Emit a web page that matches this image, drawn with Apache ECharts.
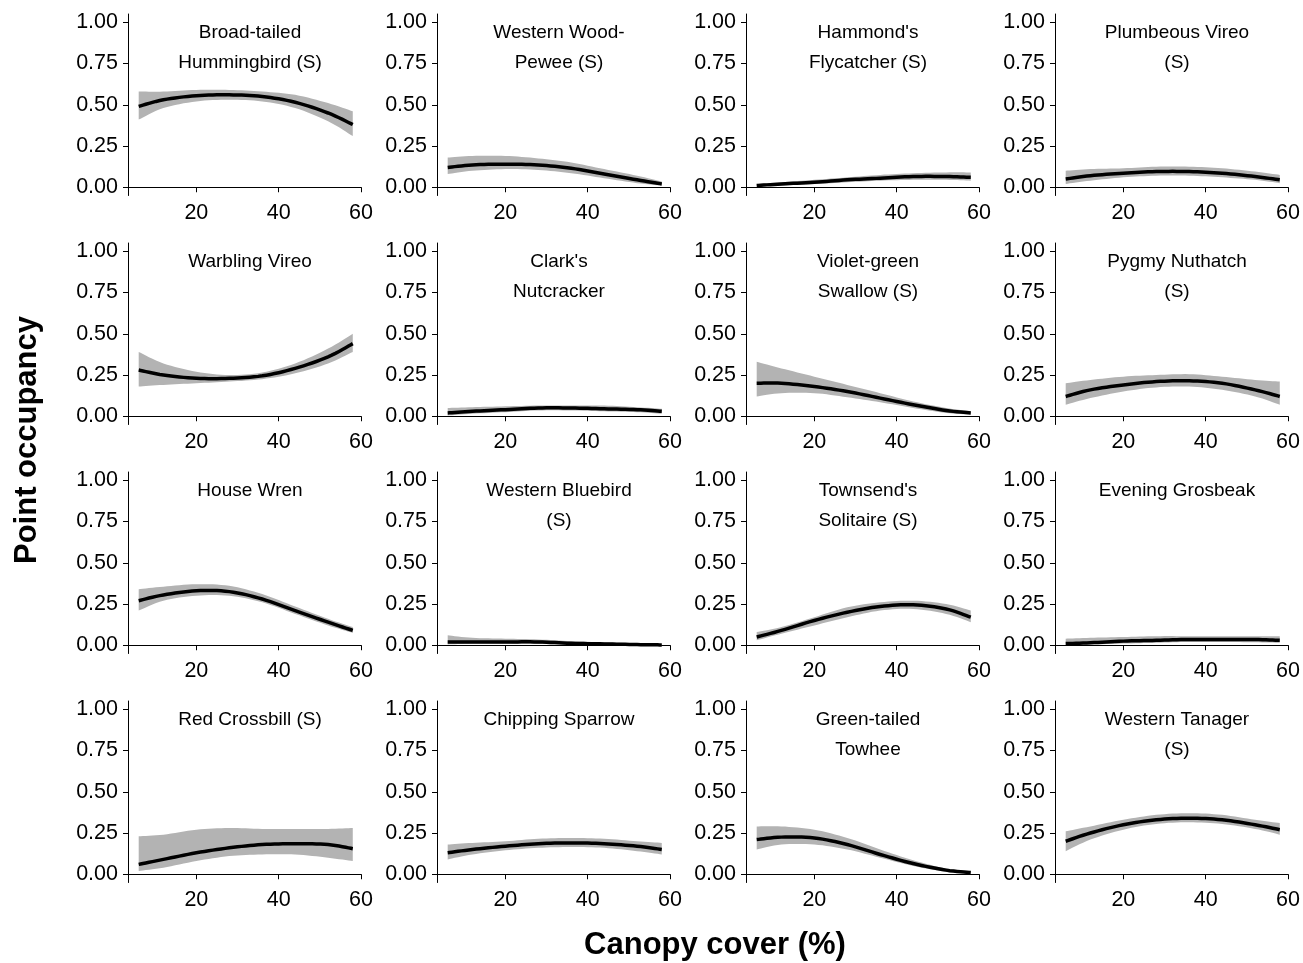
<!DOCTYPE html><html><head><meta charset="utf-8"><script src="https://cdn.jsdelivr.net/npm/echarts@6/dist/echarts.min.js"></script>
<style>html,body{margin:0;background:#fff}#c{width:1303px;height:963px}</style></head><body><div id="c"></div><script>
const xs=[6,12,20,28,36,44,52,58];
const names=["Broad-tailed\nHummingbird (S)","Western Wood-\nPewee (S)","Hammond's\nFlycatcher (S)","Plumbeous Vireo\n(S)","Warbling Vireo","Clark's\nNutcracker","Violet-green\nSwallow (S)","Pygmy Nuthatch\n(S)","House Wren","Western Bluebird\n(S)","Townsend's\nSolitaire (S)","Evening Grosbeak","Red Crossbill (S)","Chipping Sparrow","Green-tailed\nTowhee","Western Tanager\n(S)"];
const means=[[.49,.53,.555,.56,.55,.515,.45,.38],[.12,.135,.14,.135,.115,.08,.045,.02],[.01,.02,.03,.045,.055,.065,.065,.06],[.05,.07,.085,.095,.095,.085,.065,.045],[.28,.25,.23,.23,.245,.29,.36,.44],[.02,.03,.04,.05,.05,.045,.04,.03],[.20,.20,.18,.15,.11,.07,.035,.02],[.12,.16,.19,.21,.215,.20,.16,.12],[.27,.305,.33,.325,.28,.21,.14,.09],[.02,.02,.02,.02,.012,.008,.004,.002],[.05,.09,.15,.20,.235,.245,.22,.17],[.01,.015,.025,.03,.035,.035,.035,.03],[.06,.09,.13,.16,.18,.185,.18,.155],[.13,.15,.17,.185,.19,.185,.17,.15],[.21,.225,.22,.18,.12,.065,.025,.01],[.20,.25,.30,.33,.34,.33,.30,.27]];
const lows=[[.41,.48,.52,.53,.52,.48,.40,.31],[.08,.10,.11,.105,.085,.055,.025,.01],[.005,.01,.02,.03,.04,.045,.045,.04],[.02,.04,.06,.07,.07,.06,.045,.025],[.18,.19,.20,.21,.225,.26,.32,.39],[.005,.015,.025,.035,.035,.03,.025,.015],[.12,.14,.14,.115,.085,.05,.02,.01],[.07,.11,.15,.175,.18,.16,.12,.07],[.21,.27,.30,.30,.26,.19,.12,.075],[.005,.01,.01,.008,.004,.002,.001,0],[.03,.07,.12,.17,.21,.22,.19,.14],[.002,.005,.01,.015,.02,.02,.018,.015],[.02,.04,.08,.11,.12,.12,.10,.08],[.09,.12,.145,.16,.165,.16,.14,.12],[.15,.18,.18,.15,.10,.05,.015,.005],[.14,.21,.27,.305,.315,.305,.275,.24]];
const highs=[[.58,.58,.59,.59,.58,.56,.51,.46],[.18,.19,.19,.175,.15,.11,.07,.035],[.02,.03,.045,.06,.075,.085,.09,.09],[.10,.11,.115,.125,.125,.115,.095,.075],[.39,.32,.27,.25,.265,.32,.41,.50],[.05,.055,.06,.065,.065,.065,.055,.045],[.33,.29,.24,.19,.14,.09,.05,.03],[.20,.22,.24,.25,.255,.24,.22,.21],[.34,.355,.37,.36,.31,.235,.16,.11],[.06,.045,.04,.035,.025,.018,.012,.008],[.08,.11,.17,.23,.26,.27,.25,.21],[.04,.045,.05,.055,.055,.055,.055,.055],[.23,.24,.27,.28,.275,.275,.275,.28],[.18,.19,.20,.215,.22,.215,.20,.19],[.29,.29,.27,.22,.15,.085,.035,.02],[.26,.29,.33,.36,.37,.36,.33,.31]];
const xTicks=[20,40,60], yTicks=[0,0.25,0.5,0.75,1];
const grid=[],xAxis=[],yAxis=[],series=[],title=[];
const F='Arial, Liberation Sans, sans-serif';
function spline(pts,steps){
 const out=[];
 for(let k=0;k<pts.length-1;k++){
  const p0=pts[Math.max(k-1,0)],p1=pts[k],p2=pts[k+1],p3=pts[Math.min(k+2,pts.length-1)];
  for(let s=0;s<steps;s++){const t=s/steps,t2=t*t,t3=t2*t;
   out.push([0,1].map(d=>0.5*((2*p1[d])+(-p0[d]+p2[d])*t+(2*p0[d]-5*p1[d]+4*p2[d]-p3[d])*t2+(-p0[d]+3*p1[d]-3*p2[d]+p3[d])*t3)));}
 }
 out.push(pts[pts.length-1]);return out;
}
for(let i=0;i<16;i++){
 const c=i%4,r=Math.floor(i/4);
 const L=128+c*309,T=14+r*229;
 grid.push({left:L,top:T,width:233,height:181.5});
 xAxis.push({gridIndex:i,type:'value',min:3.4,max:60,splitLine:{show:false},
  axisLine:{lineStyle:{color:'#000',width:1}},axisTick:{customValues:xTicks,length:5,lineStyle:{color:'#000'}},
  axisLabel:{customValues:xTicks,color:'#000',fontSize:21.5,fontFamily:F,margin:7}});
 yAxis.push({gridIndex:i,type:'value',min:-0.05,max:1.05,splitLine:{show:false},
  axisLine:{show:true,lineStyle:{color:'#000',width:1}},axisTick:{show:true,customValues:yTicks,length:5,lineStyle:{color:'#000'}},
  axisLabel:{customValues:yTicks,color:'#000',fontSize:21.5,fontFamily:F,margin:10,formatter:v=>v.toFixed(2)}});
 title.push({text:names[i],left:L+117,top:T-1,textAlign:'center',textStyle:{fontSize:19,fontWeight:'normal',fontFamily:F,color:'#000',lineHeight:30}});
 const band=xs.map((x,j)=>[x,lows[i][j],highs[i][j]]);
 const mn=xs.map((x,j)=>[x,means[i][j]]);
 series.push({type:'custom',xAxisIndex:i,yAxisIndex:i,data:[0],silent:true,z:2,
  renderItem:(p,api)=>{
   const up=spline(band.map(b=>api.coord([b[0],b[2]])),8);
   const dn=spline(band.map(b=>api.coord([b[0],b[1]])),8).reverse();
   const m=spline(mn.map(b=>api.coord(b)),8);
   return {type:'group',children:[
    {type:'polygon',shape:{points:up.concat(dn)},style:{fill:'#b3b3b3'}},
    {type:'polyline',shape:{points:m},style:{stroke:'#000',lineWidth:3.5,fill:null}}]};
  }});
}
const chart=echarts.init(document.getElementById('c'),null,{renderer:'canvas'});
chart.setOption({animation:false,title,grid,xAxis,yAxis,series,
 graphic:[{type:'text',x:27,y:440,rotation:Math.PI/2,style:{text:'Point occupancy',font:'bold 31px Arial, Liberation Sans, sans-serif',fill:'#000',textAlign:'center',textVerticalAlign:'middle'}},
 {type:'text',x:715,y:945,style:{text:'Canopy cover (%)',font:'bold 31px Arial, Liberation Sans, sans-serif',fill:'#000',textAlign:'center',textVerticalAlign:'middle'}}]});
</script></body></html>
